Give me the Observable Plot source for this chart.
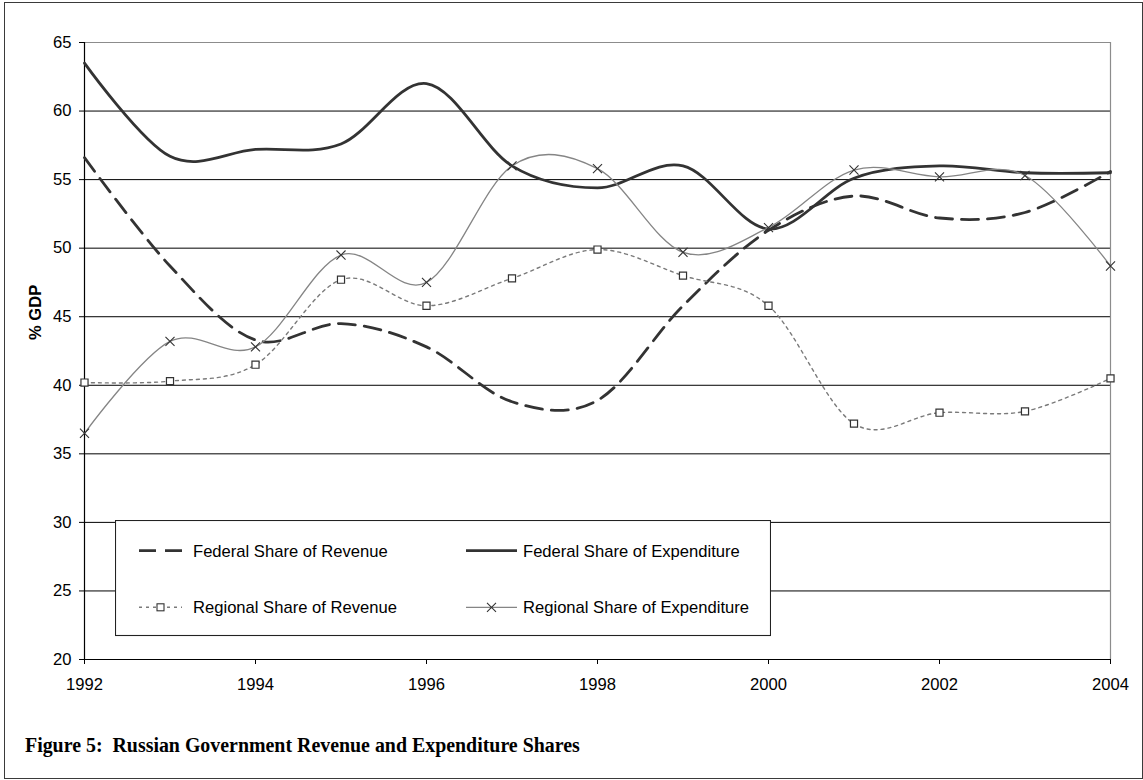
<!DOCTYPE html>
<html>
<head>
<meta charset="utf-8">
<script src="https://cdn.jsdelivr.net/npm/d3@7"></script>
<script src="https://cdn.jsdelivr.net/npm/@observablehq/plot@0.6"></script>
<style>
  body { margin: 0; background: #fff; }
  #fig { position: relative; width: 1143px; height: 780px; overflow: hidden; background: #fff; }
  #frame { position: absolute; left: 4px; top: 1.5px; width: 1139px; height: 777px;
           border: 1.6px solid #3a3a3a; box-sizing: border-box; }
  #chart { position: absolute; left: 0; top: 0; }
  #legend { position: absolute; left: 115px; top: 520px; }
  #caption { position: absolute; left: 25px; top: 734px; white-space: pre;
             font-family: "Liberation Serif", "Times New Roman", serif; font-weight: bold;
             font-size: 19.9px; line-height: 22px; color: #000; }
</style>
</head>
<body>
<div id="fig">
  <div id="frame"></div>
  <div id="chart"></div>
  <div id="legend"></div>
  <div id="caption">Figure 5:  Russian Government Revenue and Expenditure Shares</div>
</div>
<script>
// Years on the horizontal axis
const years = [1992, 1993, 1994, 1995, 1996, 1997, 1998, 1999, 2000, 2001, 2002, 2003, 2004];

// Shares, % of GDP
const fedRevenue     = [56.6, 48.7, 43.3, 44.5, 42.8, 38.8, 38.9, 45.8, 51.3, 53.8, 52.2, 52.6, 55.6];
const fedExpenditure = [63.5, 56.7, 57.2, 57.6, 62.0, 56.0, 54.4, 56.0, 51.4, 55.1, 56.0, 55.5, 55.5];
const regRevenue     = [40.2, 40.3, 41.5, 47.7, 45.8, 47.8, 49.9, 48.0, 45.8, 37.2, 38.0, 38.1, 40.5];
const regExpenditure = [36.5, 43.2, 42.8, 49.5, 47.5, 56.0, 55.8, 49.7, 51.5, 55.7, 55.2, 55.3, 48.7];

// Series names
const seriesNames = [
  "Federal Share of Revenue",
  "Federal Share of Expenditure",
  "Regional Share of Revenue",
  "Regional Share of Expenditure"
];

// Tick values
const yTicks = [20, 25, 30, 35, 40, 45, 50, 55, 60, 65];
const xTicks = [1992, 1994, 1996, 1998, 2000, 2002, 2004];
const yAxisTitle = "% GDP";

const rows = vals => years.map((year, i) => ({year, value: vals[i]}));
const smooth = d3.curveCatmullRom.alpha(0);

// Line styles shared by the chart and its legend
const styles = {
  fedRev: {stroke: "#333", strokeWidth: 2.8, strokeDasharray: "17,9"},
  fedExp: {stroke: "#333", strokeWidth: 2.8},
  regRev: {stroke: "#7a7a7a", strokeWidth: 1.4, strokeDasharray: "3,4"},
  regExp: {stroke: "#858585", strokeWidth: 1.3}
};
const squareStyle = {symbol: "square", r: 4, stroke: "#333", fill: "white", strokeWidth: 1.2};
const timesStyle = {symbol: "times", r: 4.2, stroke: "#333", strokeWidth: 1.1};

const chart = Plot.plot({
  width: 1143,
  height: 700,
  marginLeft: 84,
  marginRight: 33,
  marginTop: 42,
  marginBottom: 41,
  x: {domain: [1992, 2004]},
  y: {domain: [20, 65]},
  style: {fontFamily: "'Liberation Sans', Arial, sans-serif", fontSize: "16.6px", color: "#000", background: "transparent"},
  marks: [
    Plot.ruleY(yTicks.filter(d => d > 20 && d < 65), {stroke: "#000", strokeWidth: 1}),
    Plot.ruleY([65], {stroke: "#8c8c8c", strokeWidth: 1.2}),
    Plot.ruleX([2004], {stroke: "#8c8c8c", strokeWidth: 1.2}),
    Plot.axisY({ticks: yTicks, tickSize: 5, tickPadding: 8, label: null, stroke: "#000"}),
    Plot.axisX({ticks: xTicks, tickSize: 5, tickPadding: 14, tickFormat: "d", label: null, stroke: "#000"}),
    Plot.ruleX([1992], {stroke: "#000", strokeWidth: 1.2}),
    Plot.ruleY([20], {stroke: "#000", strokeWidth: 1.2}),
    Plot.text([yAxisTitle], {frameAnchor: "left", dx: -49, dy: -11, rotate: -90, fontWeight: "bold", fill: "#000"}),
    Plot.line(rows(fedRevenue), {x: "year", y: "value", curve: smooth, ...styles.fedRev}),
    Plot.line(rows(fedExpenditure), {x: "year", y: "value", curve: smooth, ...styles.fedExp}),
    Plot.line(rows(regRevenue), {x: "year", y: "value", curve: smooth, ...styles.regRev}),
    Plot.dot(rows(regRevenue), {x: "year", y: "value", ...squareStyle}),
    Plot.line(rows(regExpenditure), {x: "year", y: "value", curve: smooth, ...styles.regExp}),
    Plot.dot(rows(regExpenditure), {x: "year", y: "value", ...timesStyle})
  ]
});
document.getElementById("chart").appendChild(chart);

// Legend box with two rows of two entries
const lw = 656, lh = 117;
const legend = d3.select("#legend").append("svg")
  .attr("width", lw).attr("height", lh)
  .style("font-family", "'Liberation Sans', Arial, sans-serif")
  .style("font-size", "16.6px");
legend.append("rect").attr("x", 0.5).attr("y", 0.5).attr("width", lw - 1).attr("height", lh - 2)
  .attr("fill", "white").attr("stroke", "#222").attr("stroke-width", 1.1);

const entries = [
  {name: seriesNames[0], style: styles.fedRev, x0: 24, x1: 67, tx: 78, y: 30.7},
  {name: seriesNames[1], style: styles.fedExp, x0: 351, x1: 402, tx: 408, y: 30.7},
  {name: seriesNames[2], style: styles.regRev, x0: 24, x1: 67, tx: 78, y: 87.3, marker: "square"},
  {name: seriesNames[3], style: styles.regExp, x0: 351, x1: 402, tx: 408, y: 87.3, marker: "times"}
];
for (const e of entries) {
  legend.append("line")
    .attr("x1", e.x0).attr("x2", e.x1).attr("y1", e.y).attr("y2", e.y)
    .attr("stroke", e.style.stroke).attr("stroke-width", e.style.strokeWidth)
    .attr("stroke-dasharray", e.style.strokeDasharray || null);
  const cx = (e.x0 + e.x1) / 2;
  if (e.marker === "square") {
    legend.append("rect").attr("x", cx - 3.5).attr("y", e.y - 3.5).attr("width", 7).attr("height", 7)
      .attr("fill", "white").attr("stroke", "#333").attr("stroke-width", 1.1);
  } else if (e.marker === "times") {
    legend.append("path").attr("d", `M${cx - 4.5},${e.y - 4.5}L${cx + 4.5},${e.y + 4.5}M${cx - 4.5},${e.y + 4.5}L${cx + 4.5},${e.y - 4.5}`)
      .attr("stroke", "#333").attr("stroke-width", 1.1);
  }
  legend.append("text").attr("x", e.tx).attr("y", e.y).attr("dy", "0.36em")
    .attr("fill", "#000").text(e.name);
}
</script>
</body>
</html>
